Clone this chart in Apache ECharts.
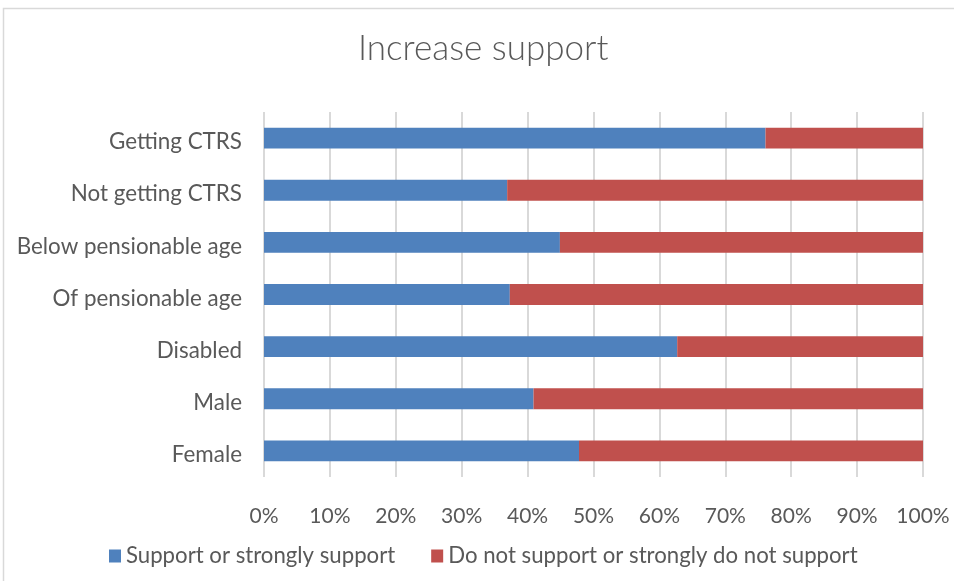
<!DOCTYPE html>
<html>
<head>
<meta charset="utf-8">
<script src="https://cdn.jsdelivr.net/npm/echarts@6/dist/echarts.min.js"></script>
<style>
html,body{margin:0;padding:0;background:#fff;}
#chart{width:954px;height:581px;}
</style>
</head>
<body>
<div id="chart"></div>
<script>
const categories = ["Getting CTRS", "Not getting CTRS", "Below pensionable age", "Of pensionable age", "Disabled", "Male", "Female"];
const support = [76.1, 36.9, 44.9, 37.3, 62.7, 40.9, 47.8];
const notSupport = [23.9, 63.1, 55.1, 62.7, 37.3, 59.1, 52.2];
const seriesNames = ["Support or strongly support", "Do not support or strongly do not support"];
const titleText = "Increase support";

const FONT = "Lato";
const TXT = "#595959";
const chart = echarts.init(document.getElementById("chart"), null, {renderer: "canvas"});
chart.setOption({
  backgroundColor: "#fff",
  animation: false,
  title: {
    text: titleText, left: 353, top: 26,
    textStyle: {fontFamily: FONT, fontSize: 35, fontWeight: 300, color: TXT}
  },
  graphic: [{
    type: "rect", shape: {x: 3.5, y: 8.5, width: 1000, height: 1000},
    style: {fill: null, stroke: "#d9d9d9", lineWidth: 1.5}, silent: true
  }],
  legend: {
    bottom: 9, left: 104, itemWidth: 12, itemHeight: 13, itemGap: 36,
    icon: "rect",
    textStyle: {fontFamily: FONT, fontSize: 22.2, color: TXT},
    data: seriesNames
  },
  grid: {left: 264, right: 31, top: 112, bottom: 104, containLabel: false},
  xAxis: {
    type: "value", min: 0, max: 100, interval: 10,
    axisLine: {show: false}, axisTick: {show: false},
    axisLabel: {formatter: "{value}%", fontFamily: FONT, fontSize: 21, color: TXT, margin: 29},
    splitLine: {lineStyle: {color: "#d9d9d9", width: 2}}
  },
  yAxis: {
    type: "category", data: categories, inverse: true,
    axisLine: {show: false}, axisTick: {show: false},
    axisLabel: {
      formatter: "{a|{value}}", margin: 22,
      rich: {a: {fontFamily: FONT, fontSize: 22.4, color: TXT, padding: [8, 0, 0, 0]}}
    }
  },
  series: [
    {name: seriesNames[0], type: "bar", stack: "s", data: support, barWidth: "40%",
     itemStyle: {color: "#4f81bd"}},
    {name: seriesNames[1], type: "bar", stack: "s", data: notSupport, barWidth: "40%",
     itemStyle: {color: "#c0504d"}}
  ]
});
</script>
</body>
</html>
